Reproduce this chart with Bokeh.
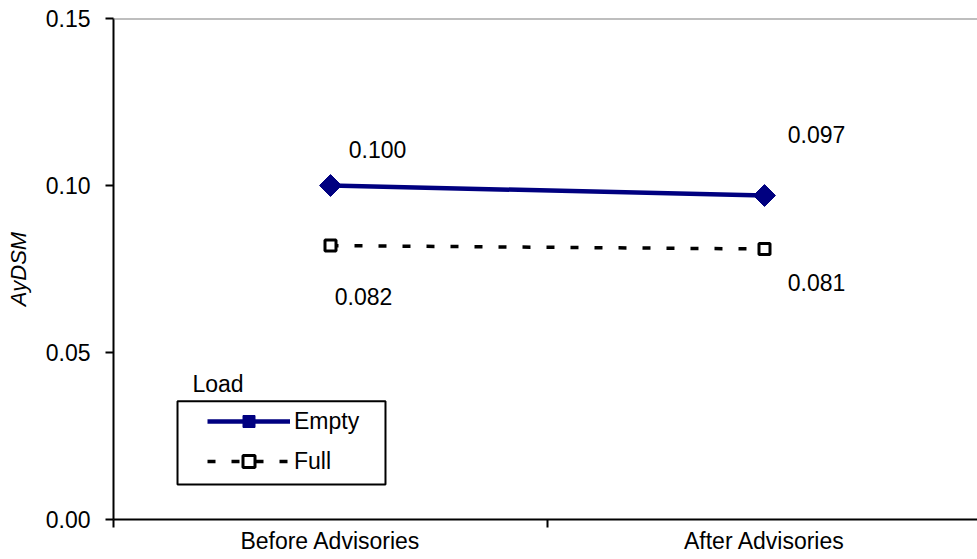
from bokeh.plotting import figure
from bokeh.models import (Range1d, FixedTicker, NumeralTickFormatter, Span, Legend,
                          LegendItem, BoxAnnotation, Label, ColumnDataSource)
from bokeh.core.properties import value
from bokeh.embed import file_html
from bokeh.resources import INLINE

# ---- data ----
categories = ["Before Advisories", "After Advisories"]
series_names = ["Empty", "Full"]
empty_values = [0.100, 0.097]
full_values = [0.082, 0.081]
y_ticks = [0.0, 0.05, 0.10, 0.15]
y_label = "AyDSM"
legend_title = "Load"

FONT = "Liberation Sans"
xs = list(range(len(categories)))

W, H = 977, 557
BL, BT, BB = 113, 18, 38
p = figure(width=W, height=H, output_backend="svg", toolbar_location=None,
           x_range=Range1d(-0.5, -0.5 + (W - BL) / 434), y_range=Range1d(0, 0.15),
           min_border_left=BL, min_border_right=0, min_border_top=BT, min_border_bottom=BB)
p.outline_line_color = None
p.xgrid.visible = False
p.ygrid.visible = False
p.background_fill_color = "white"
p.border_fill_color = "white"

# top border line
p.add_layout(Span(location=y_ticks[-1], dimension="width", line_color="#7f7f7f", line_width=2))

# x axis: labels at category centres, tick marks at category boundaries
xa = p.xaxis[0]
xa.ticker = FixedTicker(ticks=xs, minor_ticks=[i - 0.5 for i in range(len(categories) + 1)])
xa.major_label_overrides = {i: c for i, c in enumerate(categories)}
xa.major_tick_out = 0
xa.major_tick_in = 0
xa.minor_tick_out = 8
xa.minor_tick_in = 0
xa.minor_tick_line_color = "black"
xa.minor_tick_line_width = 2
xa.axis_line_width = 2
xa.axis_line_color = "black"
xa.major_label_text_font = FONT
xa.major_label_text_font_size = "23px"
xa.major_label_text_color = "black"
xa.major_label_standoff = 0

ya = p.yaxis[0]
ya.ticker = FixedTicker(ticks=y_ticks)
ya.formatter = NumeralTickFormatter(format="0.00")
ya.major_tick_out = 8
ya.major_tick_in = 0
ya.major_tick_line_width = 2
ya.minor_tick_out = 0
ya.minor_tick_in = 0
ya.axis_line_width = 2
ya.axis_line_color = "black"
ya.major_label_text_font = FONT
ya.major_label_text_font_size = "23px"
ya.major_label_text_color = "black"
ya.major_label_standoff = 15
ya.axis_label = y_label
ya.axis_label_text_font = FONT
ya.axis_label_text_font_size = "22px"
ya.axis_label_text_font_style = "italic"
ya.axis_label_text_color = "black"
ya.axis_label_standoff = 12

# series
r_e_line = p.line(xs, empty_values, line_color="#000080", line_width=4.5)
r_e_mark = p.scatter(xs, empty_values, marker="square", angle=45, angle_units="deg",
                     size=15.5, fill_color="#000080", line_color="#000080")
r_f_line = p.line(xs, full_values, line_color="black", line_width=3.5, line_dash="8 16")
r_f_mark = p.scatter(xs, full_values, marker="square", size=11, fill_color="white",
                     line_color="black", line_width=3)

# data labels
label_dx = [47, 52, 33, 52]
label_dy = [-36, -61, 51, 34]
lab_src = ColumnDataSource(dict(
    x=xs + xs,
    y=empty_values + full_values,
    text=[f"{v:.3f}" for v in empty_values + full_values],
    dx=label_dx, dy=label_dy))
p.text(x="x", y="y", text="text", x_offset="dx", y_offset="dy", source=lab_src,
       text_font=value(FONT), text_font_size="23px", text_color="black",
       text_align="center", text_baseline="middle")

# legend
box = BoxAnnotation(left=-0.3525, right=0.1267, top=0.0354, bottom=0.0105,
                    fill_color="white", fill_alpha=1, line_color="black", line_width=2,
                    line_alpha=1)
p.add_layout(box)
p.add_layout(Label(x=-0.318, y=0.0405, text=legend_title, text_font=FONT,
                   text_font_size="23px", text_color="black", text_baseline="alphabetic"))
legend = Legend(items=[LegendItem(label=series_names[0], renderers=[r_e_line, r_e_mark]),
                       LegendItem(label=series_names[1], renderers=[r_f_line, r_f_mark])],
                location=(89, 38), border_line_alpha=0, background_fill_alpha=0,
                padding=5, spacing=10, label_height=30, glyph_height=30, glyph_width=83,
                label_standoff=4, label_text_font=FONT, label_text_font_size="23px",
                label_text_color="black", margin=0)
p.add_layout(legend)

open("out.html", "w").write(file_html(p, INLINE))
